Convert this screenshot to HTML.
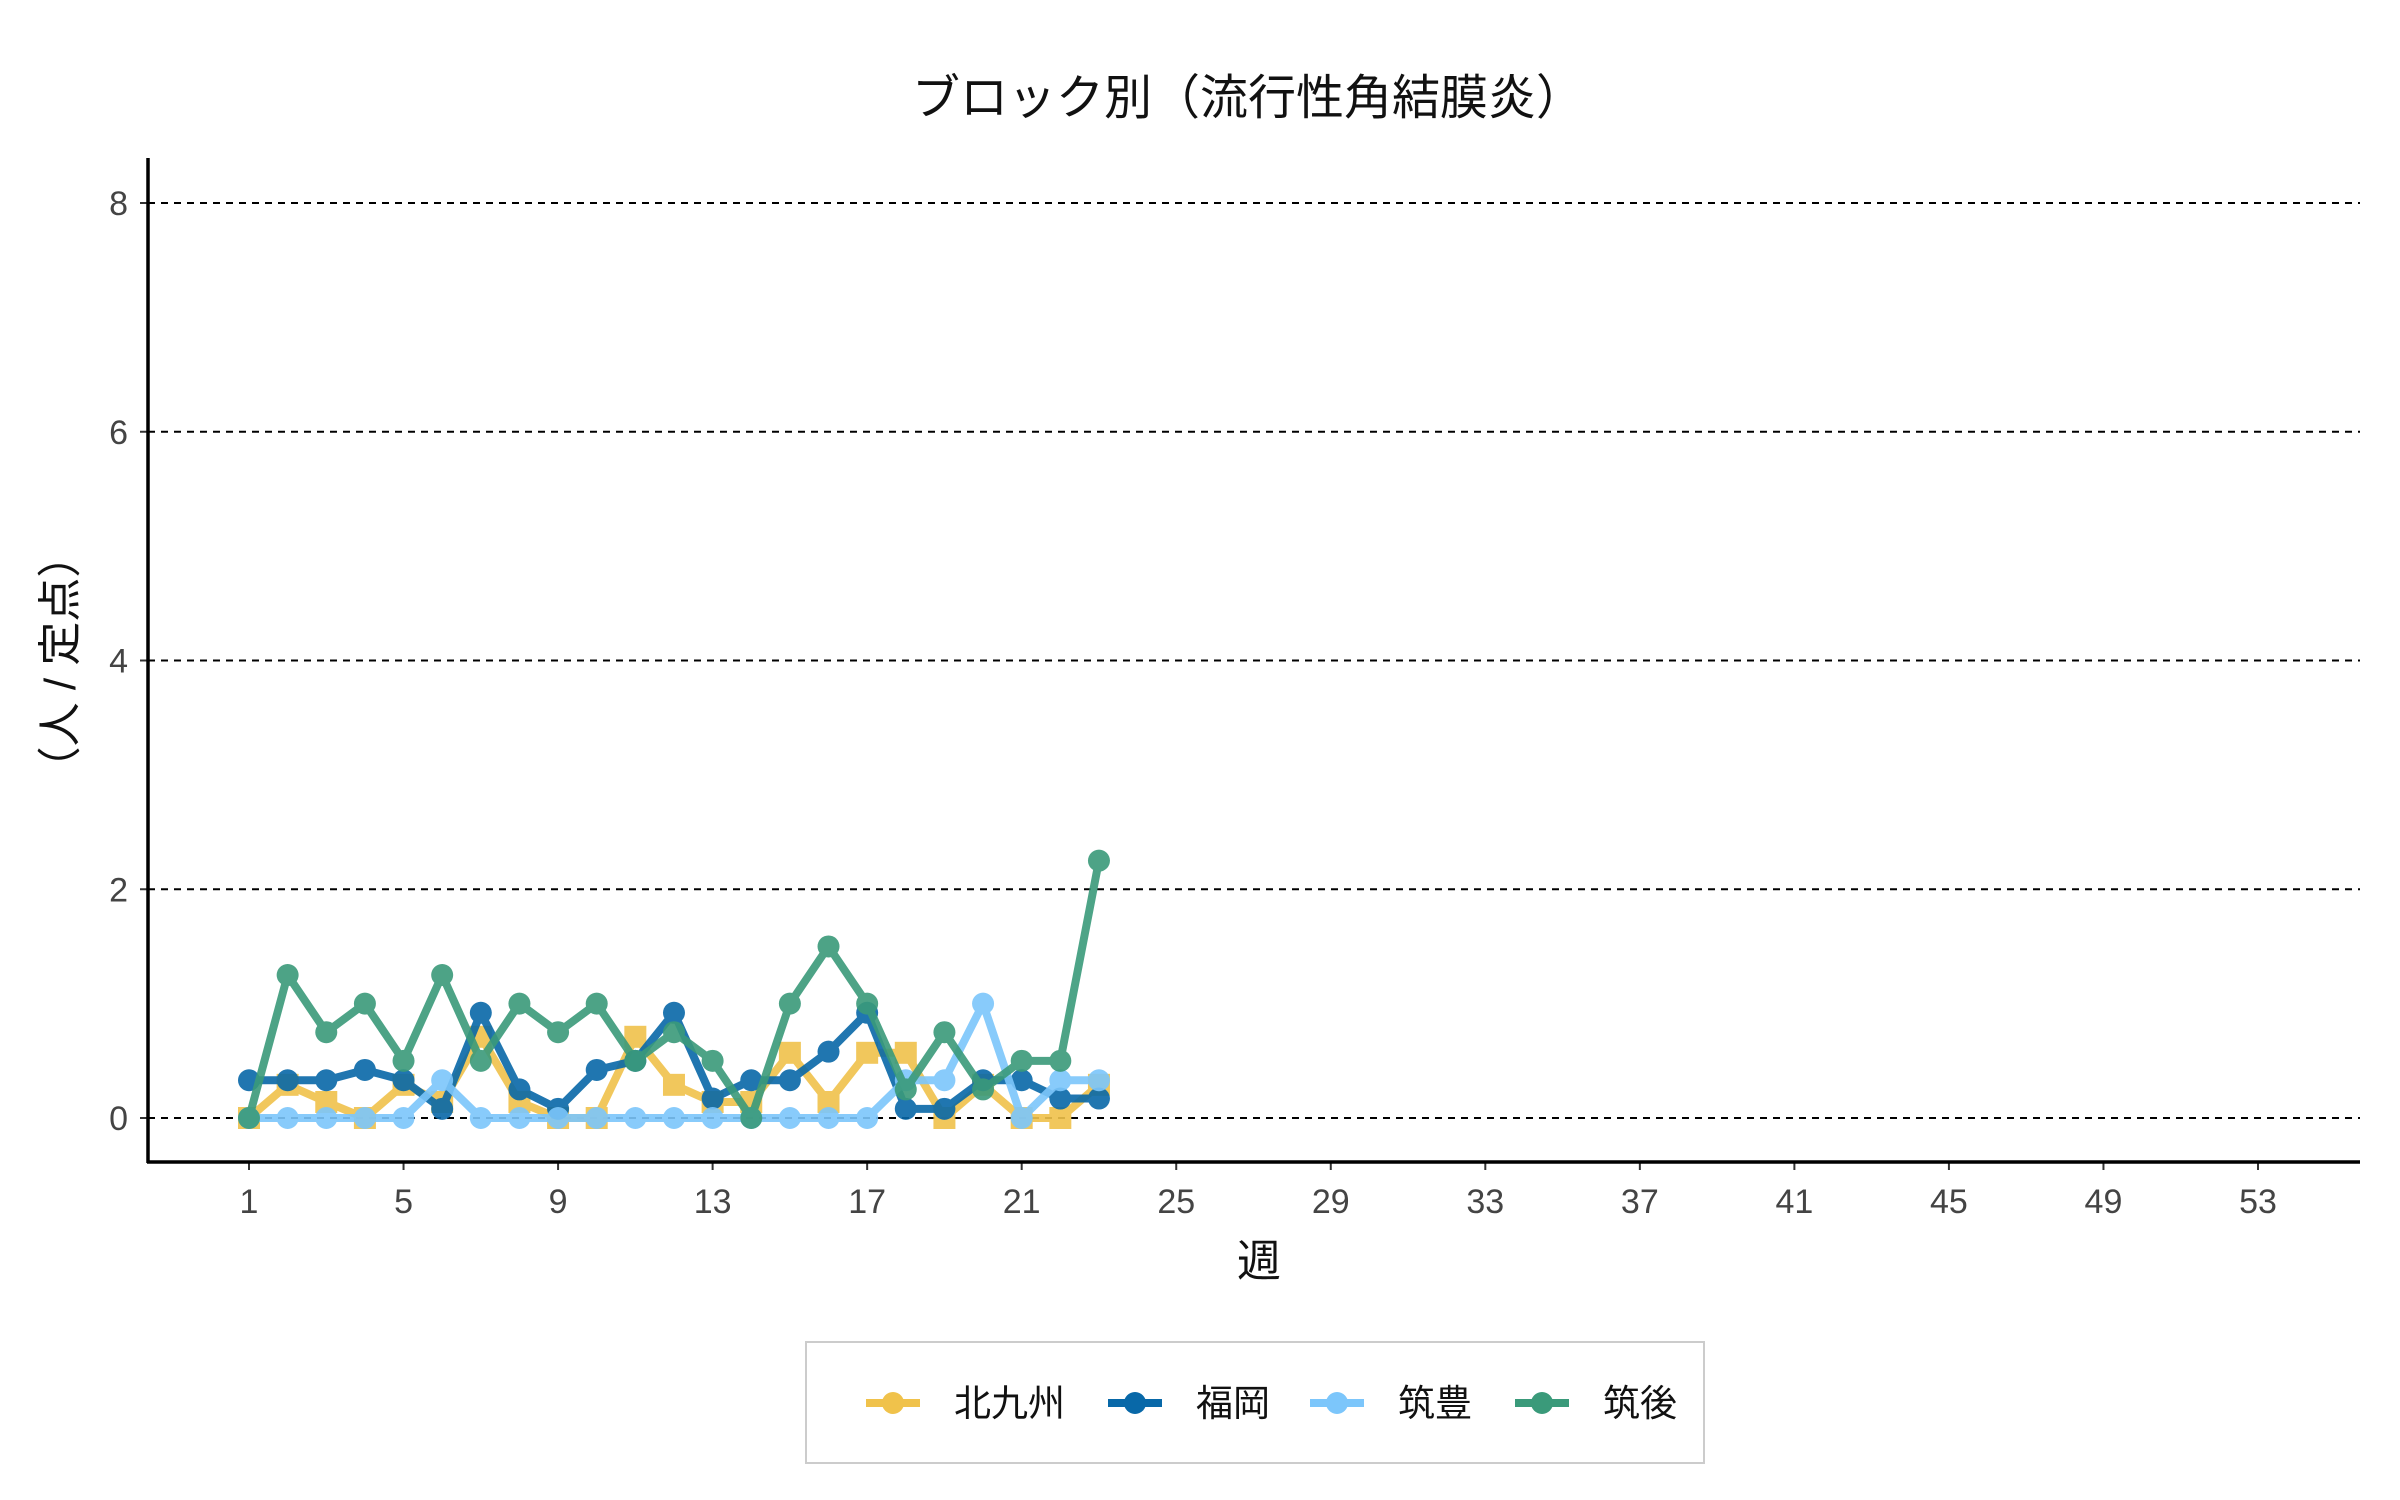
<!DOCTYPE html>
<html><head><meta charset="utf-8"><style>
html,body{margin:0;padding:0;background:#fff;}
svg{display:block;font-family:"Liberation Sans","Noto Sans CJK JP",sans-serif;}
</style></head><body>
<svg id="chart" width="2400" height="1500" viewBox="0 0 2400 1500" xmlns="http://www.w3.org/2000/svg">
<text x="1248" y="114" font-size="48" text-anchor="middle" fill="#111">ブロック別（流行性角結膜炎）</text>
<text transform="translate(75,662) rotate(-90)" font-size="44" text-anchor="middle" fill="#111">（人 / 定点）</text>
<text x="1259" y="1276" font-size="44" text-anchor="middle" fill="#111">週</text>
<g id="grid"></g><g id="axes"></g><g id="series"></g>
<g>
<rect x="806" y="1342" width="898" height="121" fill="#fff" stroke="#ccc" stroke-width="2"/>
<g id="legend"></g>
</g>
</svg>
<script>
const weeks = [1,2,3,4,5,6,7,8,9,10,11,12,13,14,15,16,17,18,19,20,21,22,23];
const kitakyushu = [0,0.29,0.14,0,0.29,0.14,0.71,0.14,0,0,0.71,0.29,0.14,0.14,0.57,0.14,0.57,0.57,0,0.29,0,0,0.29];
const fukuoka = [0.33,0.33,0.33,0.42,0.33,0.08,0.92,0.25,0.08,0.42,0.5,0.92,0.17,0.33,0.33,0.58,0.92,0.08,0.08,0.33,0.33,0.17,0.17];
const chikuho = [0,0,0,0,0,0.33,0,0,0,0,0,0,0,0,0,0,0,0.33,0.33,1.0,0,0.33,0.33];
const chikugo = [0,1.25,0.75,1,0.5,1.25,0.5,1,0.75,1,0.5,0.75,0.5,0,1,1.5,1,0.25,0.75,0.25,0.5,0.5,2.25];
const xTicks = [1,5,9,13,17,21,25,29,33,37,41,45,49,53];
const yTicks = [0,2,4,6,8];
const seriesNames = ["北九州","福岡","筑豊","筑後"];
const seriesColors = ["#f0c24b","#0868a8","#7cc6fb","#3a9a7a"];
const seriesData = [kitakyushu,fukuoka,chikuho,chikugo];

const NS="http://www.w3.org/2000/svg";
const X=w=>249+(w-1)*(2258-249)/52;
const Y=v=>1118-v*(1118-203)/8;
function mk(t,a,p){const e=document.createElementNS(NS,t);for(const k in a)e.setAttribute(k,a[k]);p.appendChild(e);return e;}
const grid=document.getElementById('grid'),axes=document.getElementById('axes'),ser=document.getElementById('series'),leg=document.getElementById('legend');
yTicks.forEach(v=>{
  const l=mk('line',{x1:148,x2:2360,y1:Y(v),y2:Y(v),stroke:'#000','stroke-width':2,'stroke-dasharray':'7,6'},grid);
  
  
  mk('line',{x1:140,x2:148,y1:Y(v),y2:Y(v),stroke:'#333','stroke-width':2},axes);
  const tx=mk('text',{x:128,y:Y(v)+12,'font-size':34,'text-anchor':'end',fill:'#444'},axes);
  tx.textContent=v;
  
  
});
xTicks.forEach(w=>{
  mk('line',{x1:X(w),x2:X(w),y1:1162,y2:1170,stroke:'#333','stroke-width':2},axes);
  const tx=mk('text',{x:X(w),y:1213,'font-size':34,'text-anchor':'middle',fill:'#444'},axes);
  tx.textContent=w;
  
  
});
const ya=mk('line',{x1:148,x2:148,y1:158,y2:1163,stroke:'#000','stroke-width':3.5},axes);


const xa=mk('line',{x1:147,x2:2360,y1:1162,y2:1162,stroke:'#000','stroke-width':3.5},axes);



seriesData.forEach((d,i)=>{
  const g=mk('g',{opacity:0.9},ser);
  
  
  const pts=d.map((v,j)=>X(weeks[j])+','+Y(v)).join(' ');
  const pl=mk('polyline',{points:pts,fill:'none',stroke:seriesColors[i],'stroke-width':8,'stroke-linejoin':'round'},g);
  
  
  d.forEach((v,j)=>{
    let m;
    if(i===0){m=mk('rect',{x:X(weeks[j])-11,y:Y(v)-11,width:22,height:22,fill:seriesColors[i]},g);}
    else{m=mk('circle',{cx:X(weeks[j]),cy:Y(v),r:11,fill:seriesColors[i]},g);}
    
    
  });
});
const lx=[866,1108,1310,1515];
seriesNames.forEach((n,i)=>{
  const g=mk('g',{},leg);
  
  
  mk('line',{x1:lx[i],x2:lx[i]+54,y1:1403,y2:1403,stroke:seriesColors[i],'stroke-width':8},g);
  mk('circle',{cx:lx[i]+27,cy:1403,r:11,fill:seriesColors[i]},g);
  const t=mk('text',{x:lx[i]+88,y:1416,'font-size':37,fill:'#111'},g);
  t.textContent=n;
});
</script>
</body></html>
